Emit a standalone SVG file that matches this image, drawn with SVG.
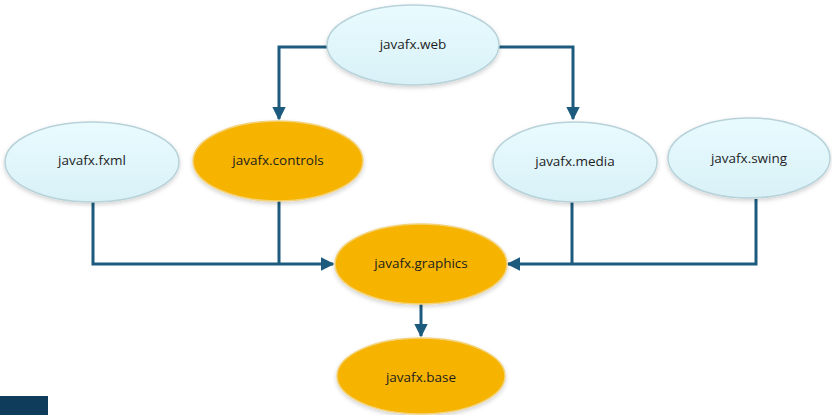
<svg xmlns="http://www.w3.org/2000/svg" width="832" height="415" viewBox="0 0 832 415">
<defs>
<linearGradient id="blue" x1="0" y1="0" x2="0" y2="1">
<stop offset="0" stop-color="#e9fbff"/>
<stop offset="1" stop-color="#d8f1f7"/>
</linearGradient>
<filter id="sh" x="-10%" y="-10%" width="120%" height="130%">
<feDropShadow dx="0" dy="2" stdDeviation="2" flood-color="#000" flood-opacity="0.18"/>
</filter>
<marker id="arr" viewBox="0 0 10 10" refX="9" refY="5" markerWidth="4.5" markerHeight="4.5" orient="auto" markerUnits="strokeWidth">
<path d="M0,0 L10,5 L0,10 z" fill="#1c5b7d"/>
</marker>
</defs>
<style>
.lb{fill:url(#blue);stroke:#b8d2da;stroke-width:1.5;filter:url(#sh)}
.or{fill:#f6b400;stroke:#f3d27a;stroke-width:1.5;filter:url(#sh)}
.t{font-family:"Open Sans","Liberation Sans",sans-serif;font-size:13.5px;fill:#1e1e1e;text-anchor:middle;dominant-baseline:central}
.c{fill:none;stroke:#1c5b7d;stroke-width:3}
</style>
<rect x="0" y="396" width="48" height="19" fill="#0e3c5a"/>
<g id="connectors">
<path class="c" d="M327,47 H279 V119" marker-end="url(#arr)"/>
<path class="c" d="M498,47 H573 V119" marker-end="url(#arr)"/>
<path class="c" d="M93,202 V264 H333" marker-end="url(#arr)"/>
<path class="c" d="M279,200 V264"/>
<path class="c" d="M756,199 V264 H508" marker-end="url(#arr)"/>
<path class="c" d="M572,202 V264"/>
<path class="c" d="M421,304 V336" marker-end="url(#arr)"/>
</g>
<g id="web"><ellipse class="lb" cx="413" cy="45" rx="86" ry="40"/><text class="t" x="413" y="44">javafx.web</text></g>
<g id="fxml"><ellipse class="lb" cx="92" cy="162" rx="87" ry="40"/><text class="t" x="92" y="160">javafx.fxml</text></g>
<g id="controls"><ellipse class="or" cx="278" cy="161" rx="85" ry="40"/><text class="t" x="278" y="160">javafx.controls</text></g>
<g id="media"><ellipse class="lb" cx="575" cy="162" rx="82" ry="40"/><text class="t" x="575" y="161">javafx.media</text></g>
<g id="swing"><ellipse class="lb" cx="749" cy="158" rx="81" ry="40"/><text class="t" x="749" y="158">javafx.swing</text></g>
<g id="graphics"><ellipse class="or" cx="421" cy="264" rx="86" ry="40"/><text class="t" x="421" y="263">javafx.graphics</text></g>
<g id="base"><ellipse class="or" cx="421" cy="376" rx="84" ry="38"/><text class="t" x="421" y="377">javafx.base</text></g>
</svg>
